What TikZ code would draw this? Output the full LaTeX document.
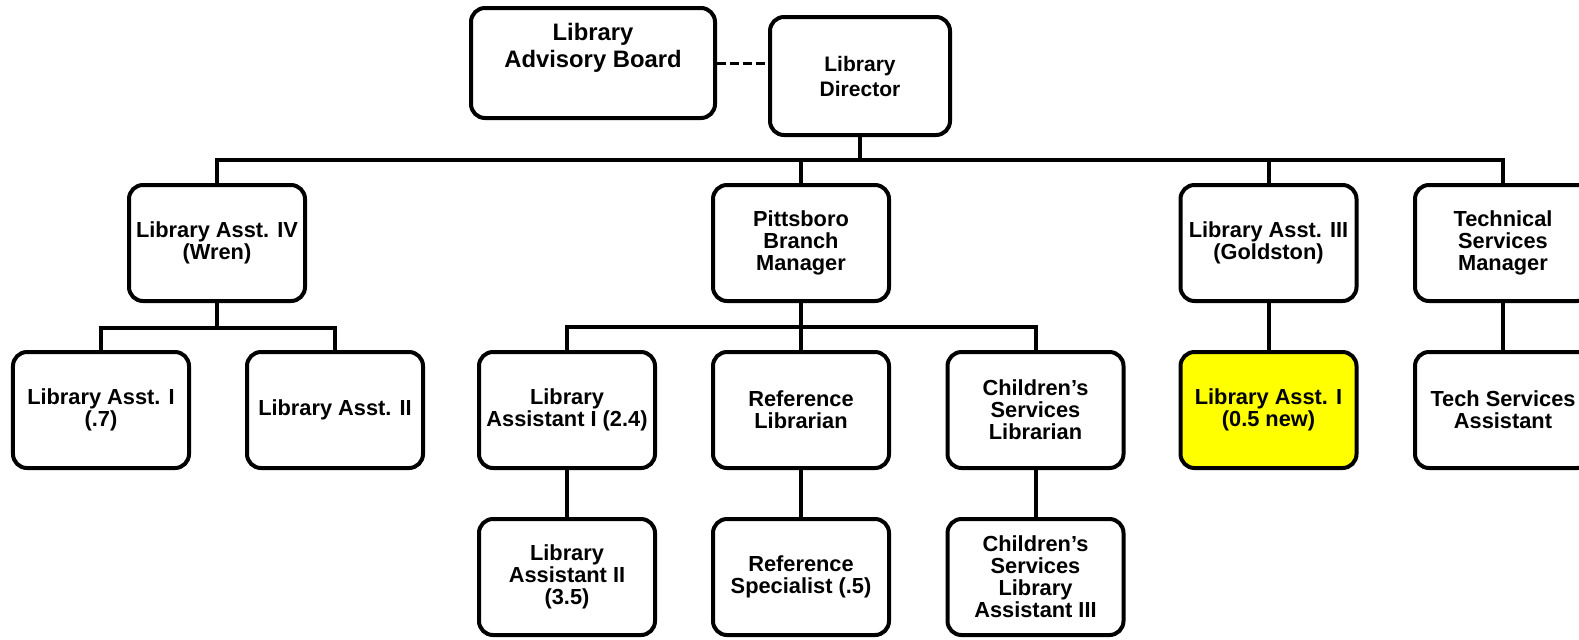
\documentclass[tikz,border=0pt]{standalone}
\usepackage{fontspec}
\setmainfont{Liberation Sans}
\usetikzlibrary{positioning}

\definecolor{newpost}{RGB}{255,255,0}

\tikzset{
    post/.style={draw, line width=2pt, rounded corners=7pt, minimum width=88pt,
        minimum height=58pt, inner sep=1pt, align=center,
        font=\bfseries\fontsize{10.9}{11}\selectfont},
    wire/.style={line width=2pt},
}

\begin{document}
\begin{tikzpicture}[x=50pt, y=50pt]
    \clip (0, 0) rectangle (15.79, -6.39);

    % top
    \path (5.93, -0.63) node [post, minimum width=122pt, minimum height=55pt,
        label={[name=boardtext, font=\bfseries\fontsize{11.9}{13.5}\selectfont,
        align=center, yshift=7.5pt]center:Library\\Advisory Board}] (board) {};
    \path (8.6, -0.76) node [post, minimum width=90pt, minimum height=59pt,
        font=\bfseries\fontsize{10.5}{12.5}\selectfont] (dir) {Library\\Director};
    \draw [wire, line width=1.5pt, dash pattern=on 4.5pt off 2pt]
        (board.east) -- (board.east -| dir.west);

    % second row
    \path (2.17, -2.43) node [post] (asst4) {Library Asst. IV\\(Wren)};
    \path (8.01, -2.43) node [post] (pitts) {Pittsboro\\Branch\\Manager};
    \path (12.685, -2.43) node [post] (asst3) {Library Asst. III\\(Goldston)};
    \path (15.03, -2.43) node [post] (techmgr) {Technical\\Services\\Manager};

    \coordinate (bus) at (8.6, -1.6);
    \draw [wire] (dir.south) -- (bus);
    \draw [wire] (asst4.north) |- (bus) -| (techmgr.north);
    \draw [wire] (pitts.north) -- (pitts.north |- bus);
    \draw [wire] (asst3.north) -- (asst3.north |- bus);

    % third row
    \path (1.01, -4.1) node [post] (asst1a) {Library Asst. I\\(.7)};
    \path (3.35, -4.1) node [post] (asst2a) {Library Asst. II};
    \path (5.67, -4.1) node [post] (passt1) {Library\\Assistant I (2.4)};
    \path (8.01, -4.1) node [post] (reflib) {Reference\\Librarian};
    \path (10.355, -4.1) node [post] (chlib) {Children’s\\Services\\Librarian};
    \path (12.685, -4.1) node [post, fill=newpost] (asst1new) {Library Asst. I\\(0.5 new)};
    \path (15.03, -4.1) node [post] (techasst) {Tech Services\\Assistant};

    \coordinate (sub4) at (2.17, -3.28);
    \draw [wire] (asst4.south) -- (sub4);
    \draw [wire] (asst1a.north) |- (sub4) -| (asst2a.north);
    \coordinate (subp) at (8.01, -3.27);
    \draw [wire] (pitts.south) -- (reflib.north);
    \draw [wire] (passt1.north) |- (subp) -| (chlib.north);
    \draw [wire] (asst3.south) -- (asst1new.north);
    \draw [wire] (techmgr.south) -- (techasst.north);

    % fourth row
    \path (5.67, -5.77) node [post] (passt2) {Library\\Assistant II\\(3.5)};
    \path (8.01, -5.77) node [post] (refspec) {Reference\\Specialist (.5)};
    \path (10.355, -5.77) node [post] (chasst) {Children’s\\Services\\Library\\Assistant III};
    \draw [wire] (passt1.south) -- (passt2.north);
    \draw [wire] (reflib.south) -- (refspec.north);
    \draw [wire] (chlib.south) -- (chasst.north);
\end{tikzpicture}
\end{document}
